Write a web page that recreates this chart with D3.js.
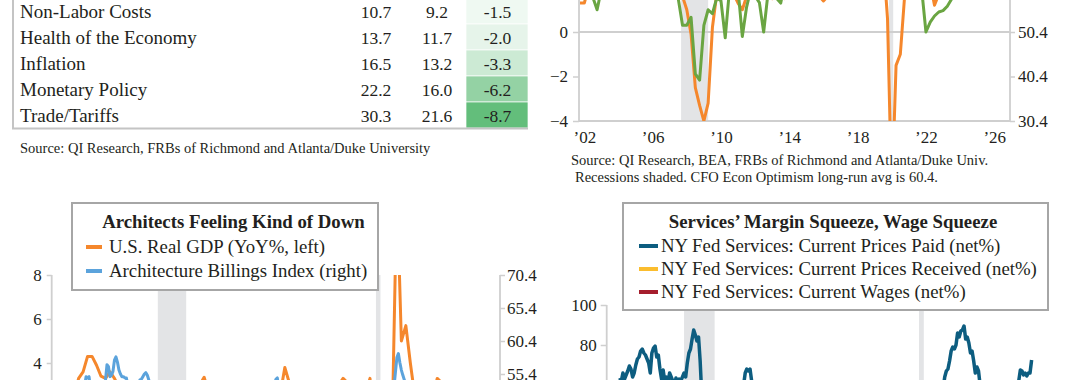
<!DOCTYPE html>
<html><head><meta charset="utf-8">
<script src="https://cdn.jsdelivr.net/npm/d3@7"></script>
<style>
html,body{margin:0;padding:0;background:#fff;}
svg{display:block;}
text{font-family:"Liberation Serif","Times New Roman",serif;fill:#231f20;}
</style></head><body>
<svg id="c" width="1080" height="380"></svg>
<script>
// ---------------- DATA ----------------
const tableRows   = ["Non-Labor Costs","Health of the Economy","Inflation","Monetary Policy","Trade/Tariffs"];
const tableCol1   = [10.7, 13.7, 16.5, 22.2, 30.3];
const tableCol2   = [9.2, 11.7, 13.2, 16.0, 21.6];
const tableChange = [-1.5, -2.0, -3.3, -6.2, -8.7];

const recessions = [[2007.917, 2009.5], [2020.083, 2020.333]];

// U.S. real GDP YoY %, quarterly from 2002Q1
const gdpStart = 2002;
const gdpYoY = [
  1.3, 1.3, 2.0, 2.0,   2.1, 2.5, 3.3, 3.6,   4.3, 4.3, 3.9, 3.4,   3.3, 3.6, 3.3, 2.9,
  3.1, 2.7, 2.3, 2.6,   1.6, 1.9, 2.3, 2.1,   1.6, 1.0, -0.1, -2.5, -3.3, -4.0, -3.2, 0.2,
  1.7, 3.0, 3.35, 2.7,  1.7, 1.3, 1.0, 1.6,   2.6, 2.4, 2.5, 1.5,   1.6, 1.5, 2.0, 2.6,
  1.5, 2.6, 2.9, 2.6,   3.8, 3.1, 2.4, 2.2,   1.6, 1.4, 1.6, 2.0,   2.0, 2.2, 2.4, 2.8,
  3.0, 3.3, 3.1, 2.3,   2.3, 2.1, 2.6, 3.3,   0.6, -7.5, -1.5, -1.0, 1.6, 12.0, 5.0, 5.7,
  4.0, 2.5, 2.2, 1.2,   1.7, 2.4, 3.3, 3.1,   2.9, 3.0, 2.7, 2.5,   2.0, 2.1
];

// CFO Econ Optimism index, quarterly from 2002Q1
const cfoStart = 2002;
const cfoOptimism = [
  58.5, 57.9, 59.0, 58.2,  55.4, 60.0, 63.0, 65.0,  66.0, 64.0, 63.0, 62.0,  61.0, 60.0, 59.0, 60.0,
  61.0, 60.0, 58.0, 61.0,  62.0, 63.0, 60.0, 57.9,  51.9, 51.9, 53.7, 41.0,  39.6, 51.9, 55.4, 54.5,
  58.0, 57.4, 49.1, 60.0,  61.0, 60.0, 49.4, 56.0,  60.0, 58.5, 57.0, 50.4,  59.0, 60.0, 58.0, 56.9,
  62.0, 61.0, 63.0, 64.0,  62.0, 60.0, 59.0, 60.0,  58.5, 59.0, 60.0, 62.0,  68.0, 69.0, 67.0, 68.0,
  70.0, 71.0, 69.0, 67.0,  63.0, 62.0, 62.0, 63.0,  62.0, 58.5, 60.0, 61.0,  66.0, 69.0, 67.0, 66.0,
  60.0, 50.4, 52.6, 54.0,  54.9, 55.2, 56.2, 57.8,  59.0, 60.0, 61.0, 62.0,  58.5, 59.0
];

// Architecture Billings Index, monthly from Jan 2002
const abiStart = 2002;
const abi = [
  48,51,50,52,50,49,51,50,48,49,51,50,
  47,46,48,49,50,51,52,53,52,53,53.5,55,
  54.8,55,53,52,54,52,53,51,53,52,54,53,
  54.5,56.8,56.5,55,55.2,55.8,57.5,58,57.2,56,55.4,55,
  55,54.8,54.8,53.5,52,53,51,52,50,51,53,54.5,
  54.6,55,55.4,55.6,55.2,54.5,53.5,52,50,48,46,45,
  44,43,42,45,44,42,40,39,37,35,33,31,
  34,36,38,37,36,41,42,44,43,44,45,43,
  43,42,45,48,46,45,45,48,49,52,50,51,
  48,47,48,46,48,45,46,48,46,50,49,46,
  46,48,51,48,47,46,46,48,50,51,52,50,
  49,48,51,52,50,52,51,53,52,52,51,50,
  46,50,51,52,50,53,54.6,54.8,53,53,52,51,
  50,51,50,51,52,53,54,52,53,50,52,51,
  49,50,51,50,51,52,50,51,52,49,51,52,
  50,50,51,53,52,51,50,52,53,51,53,52,
  52,51,52,53,52,51,50,51,52,51,53,52,
  51,50,47,50,53,52,51,50,52,50,52,53,
  52,50,34,29,32,40,40,41,43,47,46,43,
  44.9,53.3,55.6,57.9,58.5,57.1,56,55.2,54.5,53.8,53,52,
  51,51.5,52,50,51,53,51,51,47.5,49,47,48,
  48,49,51,50,47,50,49,48,46,45,47,46,
  46,43,44,48,46,46,48,45,47,44,49,46,
  44,45,44,43,44,46,45,43
];

// NY Fed Services: Current Prices Paid (net%), monthly from Aug 2004
const paidStartYear = 2004, paidStartMonth = 8;
const nyPricesPaid = [
  63.5,62,66,63,65,
  67,69.5,68,64,66,70,73,74,77,78,76,75,
  73,71,66,76,78.5,79.5,74,75,68,63,67.5,62,
  64,61,66,64,62,60,63.5,61,63,62,64,66,
  64,71,76,78,83,87.5,85,82,84,72,55,42,
  35,30,32,34,36,38,40,42,43,45,44,47,
  48,50,52,49,51,50,47,49,52,54,55,57,
  60,66,68,67,68,62,56,52,50,48,46,49,
  52,55,54,56,51,48,46,50,52,48,47,46,
  45,48,46,44,43,42,45,44,46,47,45,46,
  48,50,49,52,50,48,47,49,46,44,45,43,
  40,38,41,40,42,44,41,40,38,37,40,39,
  38,40,41,43,44,42,43,45,46,44,47,48,
  50,51,49,52,50,48,51,53,52,54,55,53,
  54,55,56,55,56,56,58,55,55,53,54,50,
  50,48,49,47,46,48,45,44,46,43,45,44,
  46,45,30,25,28,32,35,36,38,40,42,45,
  45,47,52,55,58,64,67,68,72,77,79,78,
  80,86,84,87,87.5,89.5,83,84,81,76,77,72,
  66,69,67,60,55,53,50,52,49,48,50,47,
  48,50,47,49,46,45,47,44,46,48,47,49,
  52,55,58,62,67.5,67,65,66,64.5,66,66,72.5
];

// NY Fed Services: Current Prices Received & Current Wages (net%), quarterly from 2004Q3
const nyQStart = 2004.5;
const nyPricesReceived = [
  20,22, 24,25,27,28, 26,27,24,22, 23,21,22,20, 24,28,26,8, -12,-10,-5,-2,
  2,5,6,8, 12,15,10,8, 10,12,9,8, 7,9,10,11, 12,13,12,10, 9,10,8,9,
  10,11,12,13, 15,16,17,18, 20,21,20,18, 17,16,15,14, 12,-15,-5,2,
  10,20,28,32, 38,42,40,35, 30,28,24,22, 20,19,21,20, 22,26,24,25
];
const nyWages = [
  38,40, 41,42,43,44, 45,44,46,45, 44,45,43,42, 40,38,35,25, 15,12,14,16,
  20,22,23,24, 26,28,27,26, 27,28,27,28, 29,30,30,31, 32,33,34,35, 35,36,36,37,
  37,38,38,39, 40,40,41,42, 43,44,45,45, 44,43,42,42, 40,15,22,28,
  35,42,48,52, 54,55,53,50, 47,45,43,42, 41,40,40,39, 38,37,36,36
];

const yearTicks = [2002, 2006, 2010, 2014, 2018, 2022, 2026];

// ---------------- HELPERS ----------------
const quarterly = (start, vals) => vals.map((v, i) => ({t: start + i / 4, v}));
const monthly = (y, m, vals) => vals.map((v, i) => ({t: y + (m - 1 + i) / 12, v}));

const svg = d3.select("#c");
const AX = "#cfcfcf", REC = "#e3e4e6", BOX = "#a6a6a6";
const C_ORANGE = "#f5872c", C_GREEN = "#6aa542", C_LBLUE = "#5ba3dc",
      C_TEAL = "#0d5d80", C_YEL = "#fbbd2e", C_RED = "#a51e2d";

function styleAxis(g, fs) {
  g.select(".domain").remove();
  g.selectAll(".tick line").attr("stroke", AX).attr("stroke-width", 1.5);
  g.selectAll(".tick text").attr("font-size", fs).attr("fill", "#231f20")
    .attr("font-family", '"Liberation Serif","Times New Roman",serif');
}
function vline(g, x, y1, y2) {
  g.append("line").attr("x1", x).attr("x2", x).attr("y1", y1).attr("y2", y2)
    .attr("stroke", AX).attr("stroke-width", 1.8);
}
function hline(g, y, x1, x2) {
  g.append("line").attr("x1", x1).attr("x2", x2).attr("y1", y).attr("y2", y)
    .attr("stroke", AX).attr("stroke-width", 1.8);
}

// ---------------- PANEL A : TABLE ----------------
{
  const g = svg.append("g");
  const band = d3.scaleBand().domain(d3.range(tableRows.length)).range([-2, 128]);
  const cellColor = d3.scaleLinear().domain([-0.7, -8.7]).range(["#ffffff", "#63be7b"]);
  g.selectAll("rect.cell").data(tableChange).join("rect")
    .attr("x", 466).attr("width", 62)
    .attr("y", (d, i) => band(i)).attr("height", band.bandwidth())
    .attr("fill", d => cellColor(d)).attr("stroke", "#ffffff").attr("stroke-width", 0.7);
  const base = i => band(i) + band.bandwidth() - 5.7;
  g.selectAll("text.lab").data(tableRows).join("text")
    .attr("x", 20).attr("y", (d, i) => base(i)).attr("font-size", 19).text(d => d);
  g.selectAll("text.c1").data(tableCol1).join("text")
    .attr("x", 376).attr("y", (d, i) => base(i)).attr("font-size", 17.5)
    .attr("text-anchor", "middle").text(d => d.toFixed(1));
  g.selectAll("text.c2").data(tableCol2).join("text")
    .attr("x", 437).attr("y", (d, i) => base(i)).attr("font-size", 17.5)
    .attr("text-anchor", "middle").text(d => d.toFixed(1));
  g.selectAll("text.c3").data(tableChange).join("text")
    .attr("x", 497.5).attr("y", (d, i) => base(i)).attr("font-size", 17.5)
    .attr("text-anchor", "middle").text(d => d.toFixed(1));
  g.append("line").attr("x1", 13).attr("x2", 13).attr("y1", -2).attr("y2", 128.5)
    .attr("stroke", "#c4c4c4").attr("stroke-width", 2);
  g.append("line").attr("x1", 12).attr("x2", 528).attr("y1", 128.5).attr("y2", 128.5)
    .attr("stroke", "#c4c4c4").attr("stroke-width", 2);
  g.append("text").attr("x", 20).attr("y", 153).attr("font-size", 14.5)
    .text("Source: QI Research, FRBs of Richmond and Atlanta/Duke University");
}

// ---------------- PANEL B : GDP vs CFO optimism ----------------
{
  const g = svg.append("g");
  const x = d3.scaleLinear().domain([2001.94, 2027.17]).range([579, 1010]);
  const yL = d3.scaleLinear().domain([-4, 0]).range([121, 32]);
  const yR = d3.scaleLinear().domain([30.4, 50.4]).range([121, 32]);
  g.append("clipPath").attr("id", "clipB").append("rect")
    .attr("x", 579).attr("y", -300).attr("width", 431).attr("height", 421);
  g.selectAll("rect.rec").data(recessions).join("rect")
    .attr("x", d => x(d[0])).attr("width", d => x(d[1]) - x(d[0]))
    .attr("y", -10).attr("height", 131).attr("fill", REC);
  hline(g, yL(0), 579, 1010);
  hline(g, yL(-4), 579, 1010);
  vline(g, 579, -10, 121.9);
  vline(g, 1010, -10, 121.9);
  const aL = g.append("g").attr("transform", "translate(579,0)")
    .call(d3.axisLeft(yL).tickValues([-4, -2, 0, 2]).tickSize(6).tickPadding(5).tickFormat(d3.format("d")));
  styleAxis(aL, 17);
  const aR = g.append("g").attr("transform", "translate(1010,0)")
    .call(d3.axisRight(yR).tickValues([30.4, 40.4, 50.4, 60.4]).tickSize(5).tickPadding(3).tickFormat(d3.format(".1f")));
  styleAxis(aR, 17);
  const aX = g.append("g").attr("transform", "translate(0,121)")
    .call(d3.axisBottom(x).tickValues(yearTicks.map(d => d + 0.25)).tickSize(0).tickPadding(10)
      .tickFormat(d => "\u2019" + String(Math.floor(d)).slice(2)));
  styleAxis(aX, 17);
  const lines = g.append("g").attr("clip-path", "url(#clipB)");
  lines.append("path").datum(quarterly(gdpStart, gdpYoY))
    .attr("d", d3.line().x(d => x(d.t)).y(d => yL(d.v)))
    .attr("fill", "none").attr("stroke", C_ORANGE).attr("stroke-width", 3).attr("stroke-linejoin", "round");
  lines.append("path").datum(quarterly(cfoStart, cfoOptimism))
    .attr("d", d3.line().x(d => x(d.t)).y(d => yR(d.v)))
    .attr("fill", "none").attr("stroke", C_GREEN).attr("stroke-width", 3).attr("stroke-linejoin", "round");
  g.append("text").attr("x", 571).attr("y", 165).attr("font-size", 14.5)
    .text("Source: QI Research, BEA, FRBs of Richmond and Atlanta/Duke Univ.");
  g.append("text").attr("x", 575).attr("y", 182).attr("font-size", 14.5)
    .text("Recessions shaded. CFO Econ Optimism long-run avg is 60.4.");
}

// ---------------- PANEL C : Architects ----------------
{
  const g = svg.append("g");
  const x = d3.scaleLinear().domain([2002, 2027]).range([51.7, 500]);
  const yL = d3.scaleLinear().domain([-4, 8]).range([539, 275]);
  const yR = d3.scaleLinear().domain([30.4, 70.4]).range([539, 275]);
  g.append("clipPath").attr("id", "clipC").append("rect")
    .attr("x", 51.7).attr("y", 275).attr("width", 448.3).attr("height", 264);
  g.selectAll("rect.rec").data(recessions).join("rect")
    .attr("x", d => x(d[0])).attr("width", d => x(d[1]) - x(d[0]))
    .attr("y", 275).attr("height", 264).attr("fill", REC);
  vline(g, 51.7, 275, 539);
  vline(g, 500, 275, 539);
  const aL = g.append("g").attr("transform", "translate(51.7,0)")
    .call(d3.axisLeft(yL).tickValues([-4, -2, 0, 2, 4, 6, 8]).tickSize(5).tickPadding(5).tickFormat(d3.format("d")));
  styleAxis(aL, 17);
  const aR = g.append("g").attr("transform", "translate(500,0)")
    .call(d3.axisRight(yR).tickValues(d3.range(30.4, 70.5, 5)).tickSize(5).tickPadding(2).tickFormat(d3.format(".1f")));
  styleAxis(aR, 17);
  const lines = g.append("g").attr("clip-path", "url(#clipC)");
  lines.append("path").datum(quarterly(gdpStart, gdpYoY))
    .attr("d", d3.line().x(d => x(d.t)).y(d => yL(d.v)))
    .attr("fill", "none").attr("stroke", C_ORANGE).attr("stroke-width", 3).attr("stroke-linejoin", "round");
  lines.append("path").datum(monthly(abiStart, 1, abi))
    .attr("d", d3.line().x(d => x(d.t)).y(d => yR(d.v)))
    .attr("fill", "none").attr("stroke", C_LBLUE).attr("stroke-width", 3).attr("stroke-linejoin", "round");
  // legend
  const lg = g.append("g");
  lg.append("rect").attr("x", 72).attr("y", 203).attr("width", 306).attr("height", 87)
    .attr("fill", "#fff").attr("stroke", BOX).attr("stroke-width", 2);
  lg.append("text").attr("x", 233.5).attr("y", 228).attr("text-anchor", "middle")
    .attr("font-size", 18.8).attr("font-weight", "bold").text("Architects Feeling Kind of Down");
  const items = [["U.S. Real GDP (YoY%, left)", C_ORANGE], ["Architecture Billings Index (right)", C_LBLUE]];
  items.forEach((it, i) => {
    const yb = 253 + i * 24;
    lg.append("line").attr("x1", 86).attr("x2", 102).attr("y1", yb - 6).attr("y2", yb - 6)
      .attr("stroke", it[1]).attr("stroke-width", 4);
    lg.append("text").attr("x", 109).attr("y", yb).attr("font-size", 18.8).text(it[0]);
  });
}

// ---------------- PANEL D : NY Fed services ----------------
{
  const g = svg.append("g");
  const x = d3.scaleLinear().domain([2003.91, 2026.61]).range([606.7, 1045]);
  const y = d3.scaleLinear().domain([-20, 100]).range([545, 305]);
  g.selectAll("rect.rec").data(recessions).join("rect")
    .attr("x", d => x(d[0])).attr("width", d => x(d[1]) - x(d[0]))
    .attr("y", 305).attr("height", 240).attr("fill", REC);
  vline(g, 606.7, 305, 545);
  const aL = g.append("g").attr("transform", "translate(606.7,0)")
    .call(d3.axisLeft(y).tickValues(d3.range(-20, 101, 20)).tickSize(6).tickPadding(4));
  styleAxis(aL, 17);
  const line = d3.line().x(d => x(d.t)).y(d => y(d.v));
  g.append("path").datum(monthly(paidStartYear, paidStartMonth, nyPricesPaid)).attr("d", line)
    .attr("fill", "none").attr("stroke", C_TEAL).attr("stroke-width", 3.5).attr("stroke-linejoin", "round");
  g.append("path").datum(quarterly(nyQStart, nyPricesReceived)).attr("d", line)
    .attr("fill", "none").attr("stroke", C_YEL).attr("stroke-width", 3).attr("stroke-linejoin", "round");
  g.append("path").datum(quarterly(nyQStart, nyWages)).attr("d", line)
    .attr("fill", "none").attr("stroke", C_RED).attr("stroke-width", 3).attr("stroke-linejoin", "round");
  const lg = g.append("g");
  lg.append("rect").attr("x", 623).attr("y", 203).attr("width", 425).attr("height", 107)
    .attr("fill", "#fff").attr("stroke", BOX).attr("stroke-width", 2);
  lg.append("text").attr("x", 833).attr("y", 228).attr("text-anchor", "middle")
    .attr("font-size", 18.8).attr("font-weight", "bold").text("Services\u2019 Margin Squeeze, Wage Squeeze");
  const items = [["NY Fed Services: Current Prices Paid (net%)", C_TEAL],
                 ["NY Fed Services: Current Prices Received (net%)", C_YEL],
                 ["NY Fed Services: Current Wages (net%)", C_RED]];
  items.forEach((it, i) => {
    const yb = 252 + i * 23;
    lg.append("line").attr("x1", 639).attr("x2", 658).attr("y1", yb - 6).attr("y2", yb - 6)
      .attr("stroke", it[1]).attr("stroke-width", 4);
    lg.append("text").attr("x", 661).attr("y", yb).attr("font-size", 18.8).text(it[0]);
  });
}
</script>
</body></html>
